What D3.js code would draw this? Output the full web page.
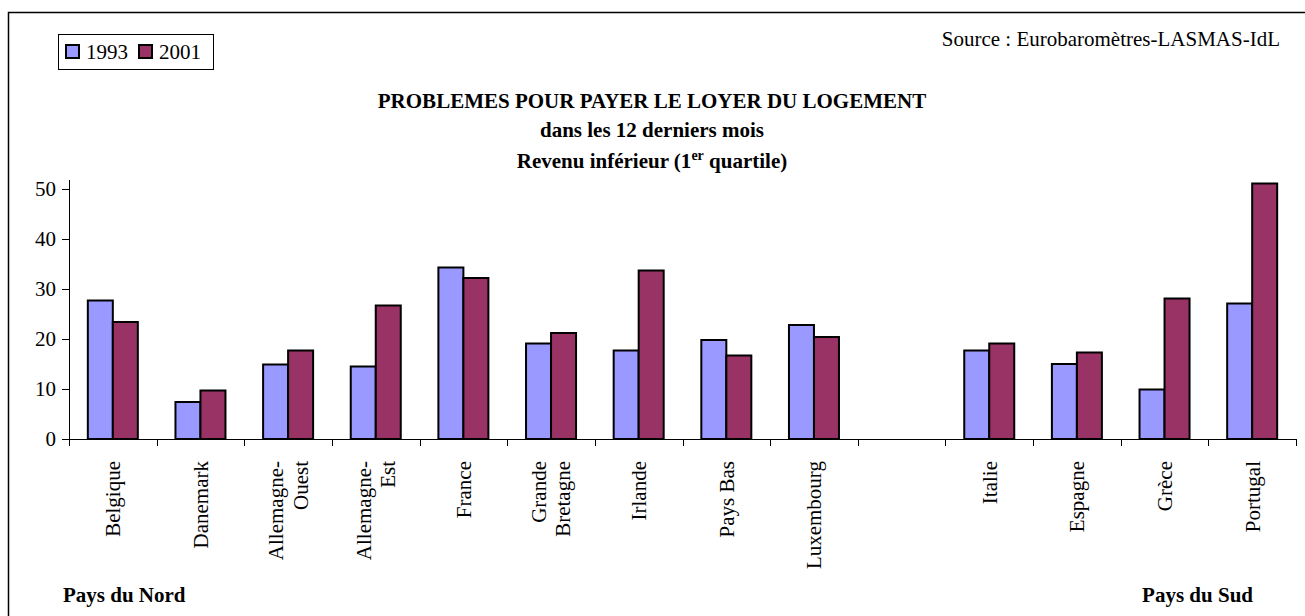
<!DOCTYPE html>
<html lang="fr">
<head>
<meta charset="utf-8">
<title>Problèmes pour payer le loyer du logement</title>
<script src="https://d3js.org/d3.v7.min.js"></script>
<style>
  body { margin: 0; background: #fff; }
  svg { display: block; font-family: "Liberation Serif", "Times New Roman", serif; }
  .axis path, .axis line { stroke: #000; shape-rendering: crispEdges; }
  .axis text { font-family: "Liberation Serif", serif; font-size: 21px; fill: #000; }
</style>
</head>
<body>
<svg id="chart" width="1305" height="616"></svg>
<script>
// Data
const countries = ["Belgique", "Danemark", "Allemagne-\nOuest", "Allemagne-\nEst", "France",
  "Grande\nBretagne", "Irlande", "Pays Bas", "Luxembourg", "", "Italie", "Espagne", "Grèce", "Portugal"];
const years = ["1993", "2001"];
const values1993 = [27.7, 7.4, 14.9, 14.5, 34.3, 19.1, 17.7, 19.8, 22.8, null, 17.7, 15.0, 9.9, 27.1];
const values2001 = [23.4, 9.7, 17.7, 26.7, 32.2, 21.2, 33.7, 16.7, 20.4, null, 19.1, 17.3, 28.1, 51.1];
const yTicks = [0, 10, 20, 30, 40, 50];
const colors = { "1993": "#9999FF", "2001": "#993366" };

const svg = d3.select("#chart");

// plot area
const plotLeft = 69, plotRight = 1296, plotTop = 179, plotBottom = 439;

const x = d3.scaleBand().domain(d3.range(countries.length)).range([plotLeft, plotRight]);
const xEdges = d3.scaleLinear().domain([0, countries.length]).range([plotLeft, plotRight]);
const xs = d3.scaleBand().domain(years).range([x.bandwidth() / 2 - 25, x.bandwidth() / 2 + 25]);
const y = d3.scaleLinear().domain([0, 52]).range([plotBottom, plotTop]);

// outer frame
svg.append("rect")
  .attr("x", 8.5).attr("y", 12.5)
  .attr("width", 1400).attr("height", 700)
  .attr("fill", "none").attr("stroke", "#000").attr("stroke-width", 1.5);

// bars
const rows = countries.map((c, i) => ({ i, c, "1993": values1993[i], "2001": values2001[i] }));
const groups = svg.append("g").selectAll("g")
  .data(rows).enter().append("g")
  .attr("transform", d => `translate(${x(d.i)},0)`);

groups.selectAll("rect")
  .data(d => years.filter(k => d[k] != null).map(k => ({ k, v: d[k] })))
  .enter().append("rect")
  .attr("x", d => xs(d.k))
  .attr("y", d => y(d.v))
  .attr("width", xs.bandwidth())
  .attr("height", d => y(0) - y(d.v))
  .attr("fill", d => colors[d.k])
  .attr("stroke", "#000")
  .attr("stroke-width", 2);

// y axis
svg.append("g")
  .attr("class", "axis")
  .attr("transform", `translate(${plotLeft},0)`)
  .call(d3.axisLeft(y).tickValues(yTicks).tickSize(7).tickSizeOuter(0).tickPadding(6));

// x axis (ticks between categories)
svg.append("g")
  .attr("class", "axis")
  .attr("transform", `translate(0,${plotBottom})`)
  .call(d3.axisBottom(xEdges).tickValues(d3.range(countries.length + 1)).tickSize(7).tickSizeOuter(0).tickFormat(""));

// rotated category labels
const labels = svg.append("g").selectAll("text")
  .data(rows).enter().append("text")
  .attr("transform", d => `translate(${x(d.i) + x.bandwidth() / 2},461) rotate(-90)`)
  .attr("text-anchor", "end")
  .attr("font-size", 21);

labels.each(function (d) {
  const lines = d.c.split("\n");
  const t = d3.select(this);
  const lh = 1.15;
  lines.forEach((ln, j) => {
    t.append("tspan")
      .attr("x", 0)
      .attr("y", 0)
      .attr("dy", `${0.35 + (j - (lines.length - 1) / 2) * lh}em`)
      .text(ln);
  });
});

// titles
const title = svg.append("g").attr("font-weight", "bold").attr("text-anchor", "middle").attr("font-size", 21);
title.append("text").attr("x", 652).attr("y", 108).text("PROBLEMES POUR PAYER LE LOYER DU LOGEMENT");
title.append("text").attr("x", 652).attr("y", 137).text("dans les 12 derniers mois");
const t3 = title.append("text").attr("x", 652).attr("y", 168);
t3.append("tspan").text("Revenu inférieur (1");
t3.append("tspan").attr("font-size", 14).attr("dy", -8).text("er");
t3.append("tspan").attr("dy", 8).text(" quartile)");

// source
svg.append("text")
  .attr("x", 1280).attr("y", 46)
  .attr("text-anchor", "end").attr("font-size", 21)
  .text("Source : Eurobaromètres-LASMAS-IdL");

// group labels
svg.append("text").attr("x", 63).attr("y", 602)
  .attr("font-weight", "bold").attr("font-size", 21).text("Pays du Nord");
svg.append("text").attr("x", 1253).attr("y", 602).attr("text-anchor", "end")
  .attr("font-weight", "bold").attr("font-size", 21).text("Pays du Sud");

// legend
const legend = svg.append("g");
legend.append("rect")
  .attr("x", 58.5).attr("y", 34.5).attr("width", 155).attr("height", 35)
  .attr("fill", "#fff").attr("stroke", "#000").attr("stroke-width", 1);
const legX = d3.scalePoint().domain(years).range([66, 139]);
const item = legend.selectAll("g.item").data(years).enter().append("g")
  .attr("class", "item")
  .attr("transform", d => `translate(${legX(d)},0)`);
item.append("rect")
  .attr("x", 0).attr("y", 45).attr("width", 13).attr("height", 13)
  .attr("fill", d => colors[d]).attr("stroke", "#000").attr("stroke-width", 2);
item.append("text")
  .attr("x", 20).attr("y", 59).attr("font-size", 21)
  .text(d => d);
</script>
</body>
</html>
